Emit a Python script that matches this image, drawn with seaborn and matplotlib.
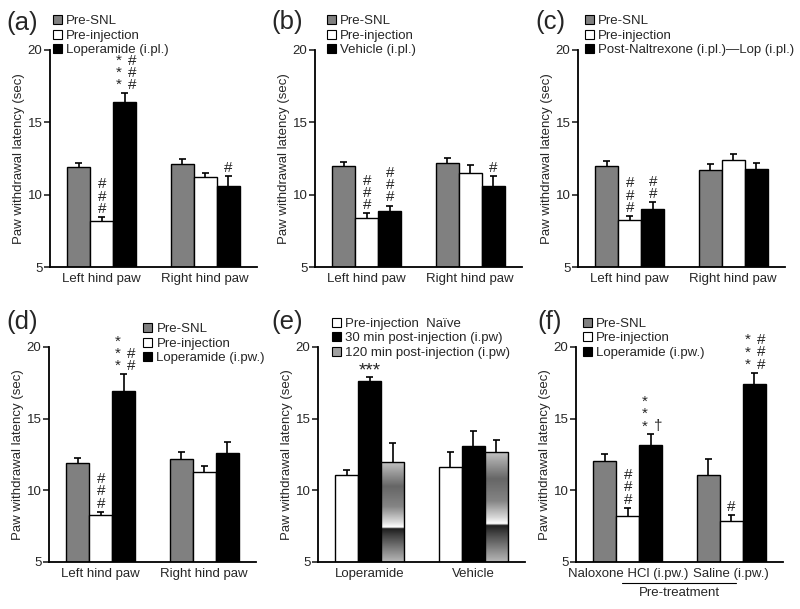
import numpy as np
import pandas as pd
import matplotlib
matplotlib.use('Agg')
import matplotlib.pyplot as plt
import seaborn as sns
from matplotlib.patches import Patch

# values (mean and SEM, one row per condition)
paw_groups = ['Left hind paw', 'Right hind paw']

a_labels = ['Pre-SNL', 'Pre-injection', 'Loperamide (i.pl.)']
a_mean = [[11.9, 12.1], [8.2, 11.2], [16.4, 10.6]]
a_sem = [[0.3, 0.35], [0.25, 0.3], [0.6, 0.7]]
a_marks = [(1, 0, '###'), (2, 0, '***|###'), (2, 1, '#')]

b_labels = ['Pre-SNL', 'Pre-injection', 'Vehicle (i.pl.)']
b_mean = [[11.95, 12.2], [8.4, 11.5], [8.9, 10.6]]
b_sem = [[0.3, 0.3], [0.3, 0.55], [0.35, 0.7]]
b_marks = [(1, 0, '###'), (2, 0, '###'), (2, 1, '#')]

c_labels = ['Pre-SNL', 'Pre-injection', 'Post-Naltrexone (i.pl.)\u2014Lop (i.pl.)']
c_mean = [[12.0, 11.7], [8.27, 12.4], [9.03, 11.8]]
c_sem = [[0.35, 0.45], [0.25, 0.4], [0.45, 0.4]]
c_marks = [(1, 0, '###'), (2, 0, '##')]

d_labels = ['Pre-SNL', 'Pre-injection', 'Loperamide (i.pw.)']
d_mean = [[11.9, 12.2], [8.25, 11.25], [16.9, 12.6]]
d_sem = [[0.35, 0.45], [0.25, 0.45], [1.2, 0.8]]
d_marks = [(1, 0, '###'), (2, 0, '***|##')]

e_groups = ['Loperamide', 'Vehicle']
e_labels = ['Pre-injection  Na\u00efve', '30 min post-injection (i.pw)', '120 min post-injection (i.pw)']
e_mean = [[11.1, 11.65], [17.65, 13.1], [12.0, 12.7]]
e_sem = [[0.35, 1.0], [0.25, 1.05], [1.3, 0.8]]
e_marks = [(1, 0, '-***')]

f_groups = ['Naloxone HCl (i.pw.)', 'Saline (i.pw.)']
f_labels = ['Pre-SNL', 'Pre-injection', 'Loperamide (i.pw.)']
f_mean = [[12.07, 11.1], [8.24, 7.85], [13.15, 17.4]]
f_sem = [[0.45, 1.1], [0.55, 0.4], [0.75, 0.8]]
f_marks = [(1, 0, '###'), (2, 0, '***|\u2020'), (1, 1, '#'), (2, 1, '***|###')]

GRAY, WHITE, BLACK = '#808080', '#ffffff', '#000000'

sns.set_style('ticks')
plt.rcParams['font.family'] = ['Liberation Sans', 'DejaVu Sans']
FS = 9.5

fig = plt.figure(figsize=(8, 6.09), dpi=100)
W, H = 800, 609


def px_rect(left, top, bottom, width=207):
    return [left / W, 1 - bottom / H, width / W, (bottom - top) / H]


# stops for the shaded "120 min" bar (fraction from top -> grey level)
grad_pos = [0.0, 0.10, 0.25, 0.45, 0.60, 0.655, 0.67, 0.75, 0.9, 1.0]
grad_val = [0.78, 0.62, 0.40, 0.52, 0.85, 1.0, 0.12, 0.28, 0.55, 0.72]


def panel(rect, labels, groups, mean, sem, colors, marks, leg_xy, gradient=None):
    ax = fig.add_axes(rect)
    rows = []
    for i, lab in enumerate(labels):
        for j, g in enumerate(groups):
            rows.append({'group': g, 'cond': lab, 'value': mean[i][j]})
    df = pd.DataFrame(rows)
    sns.barplot(data=df, x='group', y='value', hue='cond', order=groups,
                hue_order=labels, palette=colors, width=0.67, errorbar=None,
                saturation=1, edgecolor='black', linewidth=1, legend=False, ax=ax)

    for i, cont in enumerate(ax.containers):
        for j, bar in enumerate(cont):
            x = bar.get_x() + bar.get_width() / 2
            m, top = mean[i][j], mean[i][j] + sem[i][j]
            ax.vlines(x, m, top, color='black', lw=1.2, zorder=4)
            ax.hlines(top, x - 0.035, x + 0.035, color='black', lw=1.2, zorder=4)
            if gradient is not None and i == gradient:
                prof = np.interp(np.linspace(0, 1, 300), grad_pos, grad_val)
                img = ax.imshow(prof[:, None], cmap='gray', vmin=0, vmax=1, aspect='auto',
                                extent=[bar.get_x(), bar.get_x() + bar.get_width(), 5, m],
                                zorder=2, interpolation='bilinear')
                img.set_clip_path(bar)
                bar.set_facecolor('none')
                bar.set_zorder(3)

    # significance marks
    for i, j, txt in marks:
        bar = ax.containers[i][j]
        x = bar.get_x() + bar.get_width() / 2
        y = mean[i][j] + sem[i][j] + 0.08
        if txt.startswith('-'):
            ax.text(x, y - 0.25, txt[1:], ha='center', va='bottom', fontsize=13.5)
            continue
        cols = txt.split('|')
        offs = [0.0] if len(cols) == 1 else [-0.06, 0.07]
        for c, dx in zip(cols, offs):
            ax.text(x + dx, y, '\n'.join(c), ha='center', va='bottom',
                    fontsize=11, linespacing=0.85)

    ax.set_xlim(-0.5, 1.5)
    ax.set_ylim(5, 20)
    ax.set_yticks([5, 10, 15, 20])
    ax.set_xlabel('')
    ax.set_ylabel('Paw withdrawal latency (sec)', fontsize=FS, labelpad=2)
    ax.tick_params(axis='y', direction='out', length=4, width=1.2, labelsize=FS, pad=1.5)
    ax.tick_params(axis='x', length=0, labelsize=FS, pad=4)
    sns.despine(ax=ax)
    for s in ['left', 'bottom']:
        ax.spines[s].set_linewidth(1.3)
        ax.spines[s].set_color('black')

    leg_colors = [c if c != 'grad' else '#8a8a8a' for c in colors]
    handles = [Patch(facecolor=c, edgecolor='black', linewidth=0.8) for c in leg_colors]
    ax.legend(handles, labels, loc='upper left', bbox_to_anchor=leg_xy, frameon=False,
              fontsize=FS, handlelength=0.65, handleheight=0.65, handletextpad=0.35,
              labelspacing=0.18, borderpad=0, borderaxespad=0)
    return ax


std = [GRAY, WHITE, BLACK]
axa = panel(px_rect(50, 50, 267), a_labels, paw_groups, a_mean, a_sem, std, a_marks, (0.015, 1.16))
axb = panel(px_rect(315, 50, 267), b_labels, paw_groups, b_mean, b_sem, std, b_marks, (0.058, 1.16))
axc = panel(px_rect(578, 50, 267), c_labels, paw_groups, c_mean, c_sem, std, c_marks, (0.034, 1.16))
axd = panel(px_rect(49, 347, 562), d_labels, paw_groups, d_mean, d_sem, std, d_marks, (0.455, 1.11))
axe = panel(px_rect(318, 347, 562), e_labels, e_groups, e_mean, e_sem,
            [WHITE, BLACK, '#a0a0a0'], e_marks, (0.068, 1.135), gradient=2)
axf = panel(px_rect(576, 347, 562), f_labels, f_groups, f_mean, f_sem, std, f_marks, (0.034, 1.135))

# pre-treatment bracket under panel (f)
axf.plot([-0.06, 1.05], [-0.097, -0.097], color='black', lw=0.8,
         transform=axf.get_xaxis_transform(), clip_on=False)
axf.text(0.5, -0.145, 'Pre-treatment', ha='center', va='center', fontsize=FS,
         transform=axf.get_xaxis_transform())

for lab, (x, y) in zip(['(a)', '(b)', '(c)', '(d)', '(e)', '(f)'],
                       [(6, 23), (271, 22), (535, 22), (6, 322), (271, 322), (537, 322)]):
    fig.text(x / W, 1 - y / H, lab, fontsize=18.5, ha='left', va='center')

plt.savefig('out.png', dpi=100)
plt.close()
